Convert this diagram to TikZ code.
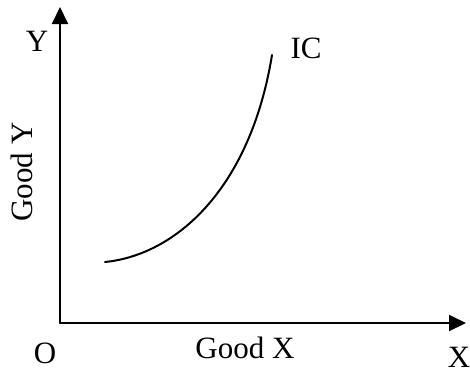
\documentclass[tikz,border=0pt]{standalone}
\usepackage{fontspec}
\setmainfont{Liberation Serif}
\usetikzlibrary{arrows.meta}
\begin{document}
\begin{tikzpicture}[>={Triangle[length=8.5pt,width=8pt]}, x=0.5pt, y=-0.5pt, line join=round, line cap=round,
    lbl/.style={font=\fontsize{15.5}{18}\selectfont, inner sep=0pt}]
  \useasboundingbox (0,0) rectangle (470,371);

  % Axes
  \coordinate (O) at (60,323);
  \coordinate (Ytip) at (60,7);
  \coordinate (Xtip) at (466,323);
  \draw[->, line width=1pt] (O) -- (Ytip);
  \draw[->, line width=1pt] (O) -- (Xtip);
  \node[lbl] (ylab) at (37,41) {Y};
  \node[lbl] (xlab) at (459,357) {X};
  \node[lbl] (olab) at (45,353) {O};
  \node[lbl] (goodx) at (245,348) {Good X};
  \node[lbl, rotate=90] (goody) at (22,172) {Good Y};

  % Indifference curve
  \coordinate (A) at (105,262);
  \coordinate (B) at (272,55);
  \draw[line width=1pt] (A) .. controls (175,255) and (250,190) .. (B);
  \node[lbl] (ic) at (306,48) {IC};
\end{tikzpicture}
\end{document}
